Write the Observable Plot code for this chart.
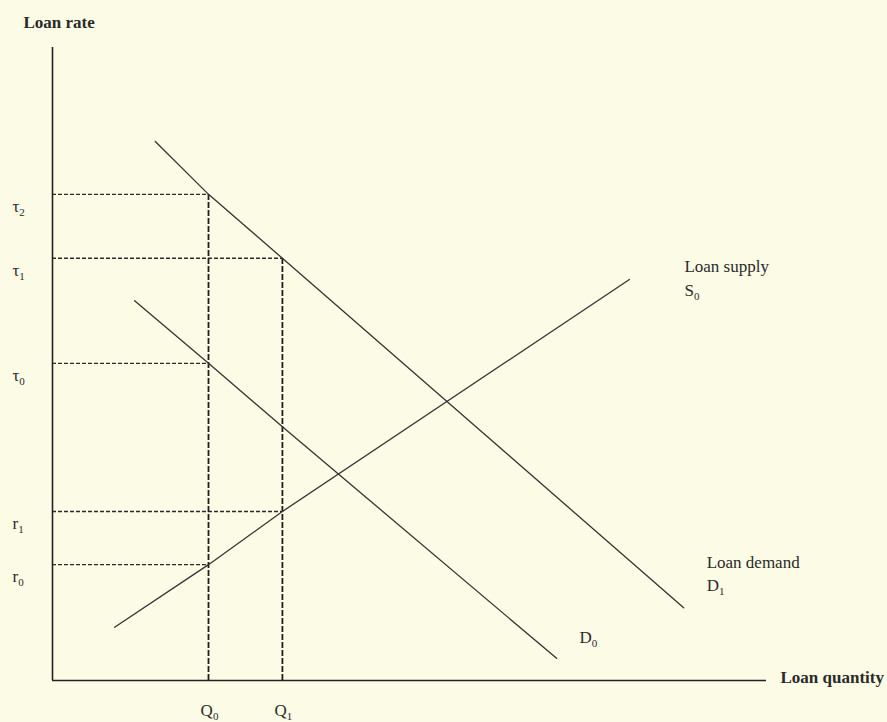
<!DOCTYPE html>
<html>
<head>
<meta charset="utf-8">
<script src="https://cdn.jsdelivr.net/npm/d3@7"></script>
<script src="https://cdn.jsdelivr.net/npm/@observablehq/plot@0.6"></script>
<style>
  html, body { margin: 0; padding: 0; background: #fcfce6; }
</style>
</head>
<body>
<div id="chart"></div>
<script>
// ---- Data (in arbitrary 0–100 units) ----
// Quantities on the horizontal axis
const quantityLabels = ["Q_0", "Q_1"];
const quantityValues = [21.85, 32.2];

// Rates on the vertical axis and which quantity each dashed guide reaches
const rateLabels = ["τ_2", "τ_1", "τ_0", "r_1", "r_0"];
const rateValues = [76.8, 66.7, 50.1, 26.7, 18.3];
const rateQuantityIndex = [0, 1, 0, 1, 0];

// Curves
const d1X = [14.4, 21.85, 32.2, 88.4];
const d1Y = [85.15, 76.8, 66.7, 11.5];
const d0X = [11.5, 21.85, 32.2, 70.6];
const d0Y = [60.0, 50.1, 40.1, 3.5];
const s0X = [8.7, 21.85, 32.2, 80.8];
const s0Y = [8.4, 18.3, 26.7, 63.35];

// ---- Build tables ----
const curves = [
  ...d1X.map((x, i) => ({curve: "D1", x, y: d1Y[i]})),
  ...d0X.map((x, i) => ({curve: "D0", x, y: d0Y[i]})),
  ...s0X.map((x, i) => ({curve: "S0", x, y: s0Y[i]}))
];
const rateRows = rateLabels.map((label, i) => ({
  label, r: rateValues[i], q: quantityValues[rateQuantityIndex[i]]
}));
const quantityRows = quantityLabels.map((label, i) => ({
  label, q: quantityValues[i],
  top: d3.max(rateRows.filter(d => d.q === quantityValues[i]), d => d.r)
}));
const last = (xs, ys) => ({x: xs[xs.length - 1], y: ys[ys.length - 1]});
const s0End = last(s0X, s0Y), d1End = last(d1X, d1Y), d0End = last(d0X, d0Y);

const ink = "#333";

const chart = Plot.plot({
  width: 887,
  height: 722,
  marginLeft: 52,
  marginRight: 121,
  marginTop: 47,
  marginBottom: 42,
  x: {domain: [0, 100], axis: null},
  y: {domain: [0, 100], axis: null},
  style: {
    background: "#fcfce6",
    fontFamily: "'Liberation Serif', 'Times New Roman', serif",
    fontSize: "17px",
    color: "#2a2a2a"
  },
  marks: [
    // dashed guides
    Plot.ruleY(rateRows, {x1: 0, x2: "q", y: "r", stroke: "#2a2a2a", strokeWidth: 1.4, strokeDasharray: "4,2"}),
    Plot.ruleX(quantityRows, {x: "q", y1: 0, y2: "top", stroke: "#1e1e1e", strokeWidth: 1.8, strokeDasharray: "6,2"}),
    // curves
    Plot.line(curves, {x: "x", y: "y", z: "curve", stroke: ink, strokeWidth: 1.3}),
    // axes
    Plot.ruleX([0], {stroke: "#222", strokeWidth: 1.6}),
    Plot.ruleY([0], {x1: 0, x2: 100, stroke: "#222", strokeWidth: 1.6}),
    // axis titles
    Plot.text(["Loan rate"], {x: 0, y: 100, dx: -29, dy: -25, textAnchor: "start", fontWeight: "bold"}),
    Plot.text(["Loan quantity"], {x: 100, y: 0, dx: 14, dy: -3, textAnchor: "start", fontWeight: "bold"}),
    // tick-like labels
    Plot.text(rateRows, {x: 0, y: "r", text: "label", dx: -40, dy: 12, textAnchor: "start"}),
    Plot.text(quantityRows, {x: "q", y: 0, text: "label", dx: 1, dy: 30, textAnchor: "middle"}),
    // curve labels
    Plot.text([s0End], {x: "x", y: "y", text: () => "Loan supply", dx: 55, dy: -13, textAnchor: "start"}),
    Plot.text([s0End], {x: "x", y: "y", text: () => "S_0", dx: 55, dy: 11, textAnchor: "start"}),
    Plot.text([d1End], {x: "x", y: "y", text: () => "Loan demand", dx: 23, dy: -45, textAnchor: "start"}),
    Plot.text([d1End], {x: "x", y: "y", text: () => "D_1", dx: 23, dy: -22, textAnchor: "start"}),
    Plot.text([d0End], {x: "x", y: "y", text: () => "D_0", dx: 23, dy: -21, textAnchor: "start"})
  ]
});

// turn "X_n" into a base letter with a subscript
chart.querySelectorAll("text").forEach(t => {
  const s = t.textContent;
  const i = s.indexOf("_");
  if (i < 0) return;
  t.textContent = s.slice(0, i);
  const ts = document.createElementNS("http://www.w3.org/2000/svg", "tspan");
  ts.setAttribute("font-size", "11");
  ts.setAttribute("dy", "4");
  ts.textContent = s.slice(i + 1);
  t.appendChild(ts);
});

document.getElementById("chart").appendChild(chart);
</script>
</body>
</html>
